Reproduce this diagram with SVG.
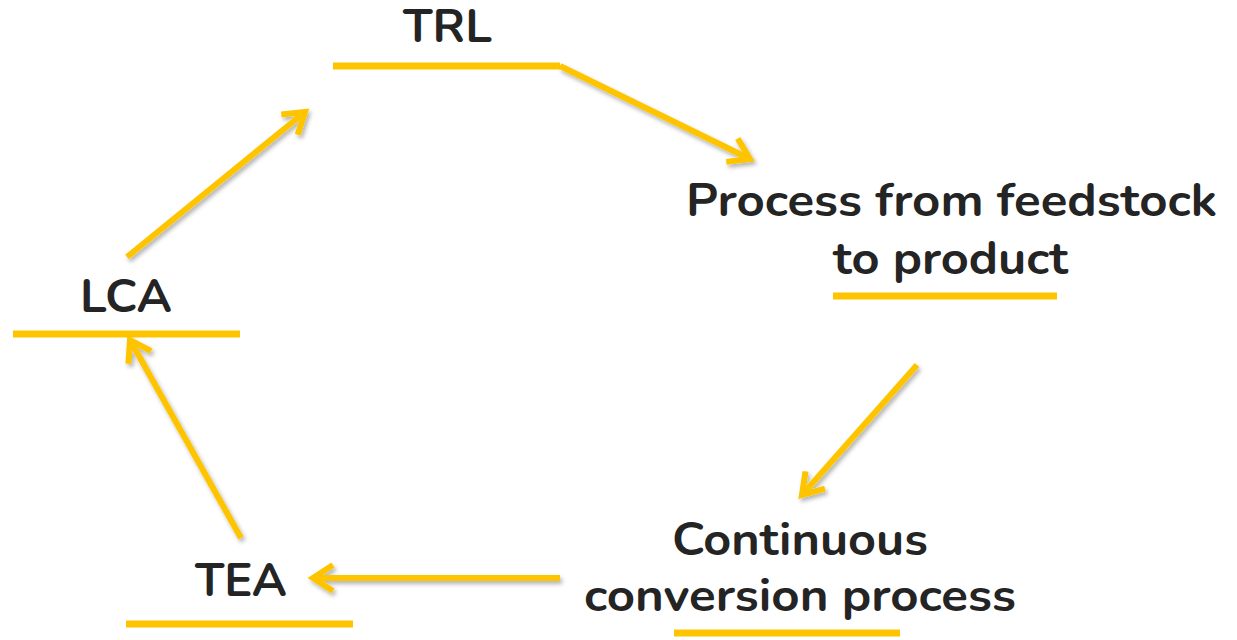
<svg xmlns="http://www.w3.org/2000/svg" width="1237" height="640" viewBox="0 0 1237 640">
  <defs>
    <style>
      .label { font-family: "Nunito", "Noto Sans", "Open Sans", sans-serif; font-weight: 700; fill: #242424; text-anchor: middle; }
      .bar { stroke: #FFC400; stroke-width: 7; fill: none; }
      .arrow { stroke: #FFC400; stroke-width: 6; fill: none; marker-end: url(#head); }
    </style>
    <marker id="head" markerUnits="userSpaceOnUse" viewBox="-30 -20 40 40" markerWidth="40" markerHeight="40" refX="0" refY="0" orient="auto">
      <path d="M -20 -13 L 0 0 L -20 13" fill="none" stroke="#FFC400" stroke-width="6" stroke-linejoin="miter"/>
    </marker>
    <filter id="shadow" x="-20%" y="-20%" width="140%" height="140%">
      <feDropShadow dx="2" dy="3" stdDeviation="2" flood-color="#000" flood-opacity="0.3"/>
    </filter>
  </defs>
  <rect width="1237" height="640" fill="#fff"/>

  <g id="trl">
    <text class="label" x="447.5" y="42" font-size="45" textLength="89" lengthAdjust="spacingAndGlyphs">TRL</text>
    <line class="bar" x1="333" y1="66" x2="560" y2="66"/>
  </g>

  <g id="process">
    <text class="label" x="951.5" y="216" font-size="46" textLength="531" lengthAdjust="spacingAndGlyphs">Process from feedstock</text>
    <text class="label" x="950.5" y="274" font-size="46" textLength="235" lengthAdjust="spacingAndGlyphs">to product</text>
    <line class="bar" x1="833" y1="296" x2="1057" y2="296"/>
  </g>

  <g id="continuous">
    <text class="label" x="800" y="555" font-size="46" textLength="256" lengthAdjust="spacingAndGlyphs">Continuous</text>
    <text class="label" x="800" y="611" font-size="46" textLength="432" lengthAdjust="spacingAndGlyphs">conversion process</text>
    <line class="bar" x1="674" y1="633" x2="900" y2="633"/>
  </g>

  <g id="tea">
    <text class="label" x="241" y="596" font-size="45" textLength="92" lengthAdjust="spacingAndGlyphs">TEA</text>
    <line class="bar" x1="126" y1="624" x2="353" y2="624"/>
  </g>

  <g id="lca">
    <text class="label" x="126" y="312" font-size="45" textLength="92" lengthAdjust="spacingAndGlyphs">LCA</text>
    <line class="bar" x1="13" y1="334" x2="240" y2="334"/>
  </g>

  <g id="connectors" filter="url(#shadow)">
    <line class="arrow" x1="560" y1="66" x2="750" y2="159"/>
    <line class="arrow" x1="917" y1="365" x2="802" y2="495"/>
    <line class="arrow" x1="560" y1="578" x2="313" y2="578"/>
    <line class="arrow" x1="241" y1="538" x2="130" y2="340"/>
    <line class="arrow" x1="127" y1="257" x2="305" y2="112"/>
  </g>
</svg>
